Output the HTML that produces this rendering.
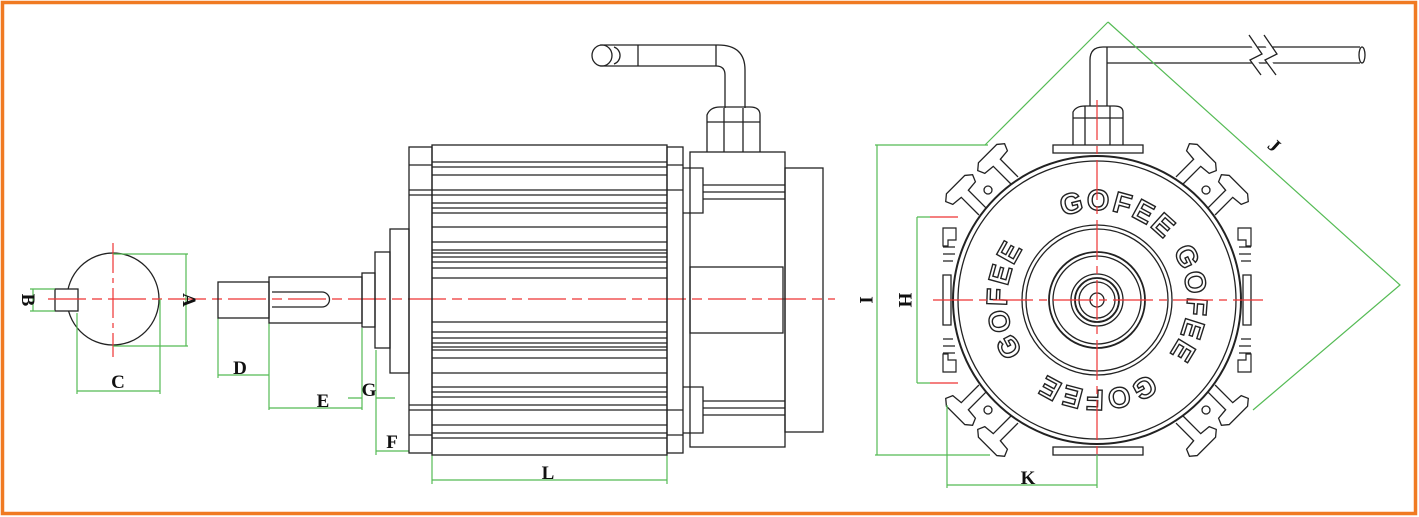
<!DOCTYPE html>
<html><head><meta charset="utf-8"><style>
html,body{margin:0;padding:0;background:#fff;}
svg{display:block;}
.lbl{font-family:"Liberation Serif",serif;font-weight:bold;}
.logo{font-family:"Liberation Sans",sans-serif;font-weight:bold;}
</style></head><body>
<svg width="1419" height="517" viewBox="0 0 1419 517" xmlns="http://www.w3.org/2000/svg">
<defs>
<g id="tee">
<path d="M-5,12 L-5,-13 L-16,-14 L-19,-21 L-13,-26 L13,-26 L19,-21 L16,-14 L5,-13 L5,12" fill="#fff" stroke="#222" stroke-width="1.3"/>
</g>
<g id="corner">
<use href="#tee" transform="translate(1006,172) rotate(-45)"/>
<use href="#tee" transform="translate(974,203) rotate(-45)"/>
<circle cx="988" cy="190" r="4" fill="none" stroke="#222" stroke-width="1.3"/>
<path d="M943,228 h13 v12 h-8 v6 h-5z M943,247 h12 M943,254 h12 M943,261 h10" fill="none" stroke="#222" stroke-width="1.2"/>
</g>
<path id="ring" d="M1007,300 A90,90 0 1 1 1187,300 A90,90 0 1 1 1007,300 A90,90 0 1 1 1187,300 A90,90 0 1 1 1007,300"/>
</defs>
<rect x="2.5" y="2.5" width="1413" height="511" fill="#fff" stroke="#f07a22" stroke-width="3.5"/>

<g fill="none" stroke="#222" stroke-width="1.3">
<circle cx="113" cy="299" r="46"/>
<rect x="55" y="289" width="23" height="22" fill="#fff"/>
</g>
<g stroke="#e33" stroke-width="1.2" fill="none">
<line x1="113" y1="243" x2="113" y2="357" stroke-dasharray="30,5,5,5"/>
<line x1="48" y1="299" x2="835" y2="299" stroke-dasharray="38,6,10,6"/>
</g>
<g stroke="#5b5" stroke-width="1.2" fill="none">
<path d="M113,254 H188 M113,346 H188 M186,254 V346"/>
<path d="M30,289 H55 M30,311 H55 M33,289 V311"/>
<path d="M77,313 V394 M160,299 V394 M77,391 H160"/>
<path d="M218,318 V378 M269,323 V410 M218,375 H269"/>
<path d="M269,408 H362 M362,328 V410 M348,398 H362 M376,398 H395 M376,350 V455 M376,451 H409"/>
<path d="M432,455 V484 M667,455 V484 M432,480 H667"/>
</g>
<g class="lbl" font-size="19" fill="#111" text-anchor="middle">
<text x="183" y="300" transform="rotate(90 183 300)">A</text>
<text x="20" y="300" transform="rotate(90 20 300)" dy="-2">B</text>
<text x="118" y="388">C</text>
<text x="240" y="374">D</text>
<text x="323" y="407">E</text>
<text x="369" y="396">G</text>
<text x="392" y="448">F</text>
<text x="548" y="479">L</text>
</g>

<g fill="none" stroke="#222" stroke-width="1.3">
<rect x="218" y="282" width="51" height="36"/>
<rect x="269" y="277" width="93" height="46"/>
<path d="M272,292 H322 A7.5,7.5 0 0 1 322,307 H272"/>
<rect x="362" y="273" width="13" height="54"/>
<rect x="375" y="252" width="15" height="96"/>
<rect x="390" y="229" width="19" height="144"/>
<rect x="409" y="147" width="23" height="306"/>
<rect x="432" y="145" width="235" height="310"/>
<rect x="667" y="147" width="16" height="306"/>
<path d="M683,168 H703 V213 H683 M683,387 H703 V433 H683"/>
<rect x="690" y="152" width="95" height="295"/>
<rect x="785" y="168" width="38" height="264"/>
<rect x="690" y="267" width="93" height="66"/>
<path d="M703,185 H785 M703,192 H785 M703,199 H785 M703,401 H785 M703,408 H785 M703,415 H785"/>
<path d="M432,162 H667 M432,167 H667 M432,175 H667 M432,190 H667 M432,195 H667 M432,203 H667 M432,208 H667 M432,213 H667 M432,227 H667 M432,242 H667 M432,250 H667 M432,253 H667 M432,257 H667 M432,262 H667 M432,268 H667 M432,278 H667"/>
<path d="M432,322 H667 M432,332 H667 M432,338 H667 M432,343 H667 M432,347 H667 M432,350 H667 M432,358 H667 M432,373 H667 M432,387 H667 M432,392 H667 M432,397 H667 M432,405 H667 M432,410 H667 M432,425 H667 M432,433 H667 M432,438 H667"/>
<path d="M409,165 H432 M409,190 H432 M409,195 H432 M409,405 H432 M409,410 H432 M409,435 H432 M667,165 H683 M667,190 H683 M667,410 H683 M667,435 H683"/>
<path d="M707,152 V115 Q710,107 720,107 H750 Q760,107 760,115 V152"/>
<path d="M724,108 V152 M743,108 V152 M707,122 H760"/>
<path d="M725,108 V75 Q725,66 716,66 H600 M745,108 V70 Q745,45 718,45 H600"/>
<path d="M638,45 V66 M716,45 V66"/>
<ellipse cx="602" cy="55.5" rx="10" ry="10.5"/>
<path d="M614,47 A9,9 0 0 1 614,64"/>
</g>

<g fill="none" stroke="#222" stroke-width="1.3">
<use href="#corner"/>
<use href="#corner" transform="translate(2194,0) scale(-1,1)"/>
<use href="#corner" transform="translate(0,600) scale(1,-1)"/>
<use href="#corner" transform="translate(2194,600) scale(-1,-1)"/>
<path d="M943,275 h8 v50 h-8z M1251,275 h-8 v50 h8z"/>
<circle cx="1097" cy="300" r="144" fill="#fff" stroke-width="2"/>
<circle cx="1097" cy="300" r="139"/>
<circle cx="1097" cy="300" r="75"/>
<circle cx="1097" cy="300" r="71"/>
<circle cx="1097" cy="300" r="48" stroke-width="1.8"/>
<circle cx="1097" cy="300" r="44"/>
<circle cx="1097" cy="300" r="26"/>
<circle cx="1097" cy="300" r="22" stroke-width="1.8"/>
<circle cx="1097" cy="300" r="18"/>
<circle cx="1097" cy="300" r="7"/>
<rect x="1053" y="145" width="90" height="8" fill="#fff"/>
<rect x="1053" y="447" width="90" height="8" fill="#fff"/>
<path d="M1073,145 V112 Q1076,106 1085,106 H1114 Q1123,106 1123,112 V145 M1085,106 V145 M1110,106 V145 M1073,118 H1123"/>
<path d="M1090,106 V60 Q1090,47 1103,47 H1360 M1107,106 V63 H1360 M1107,47 V63"/>
<ellipse cx="1362" cy="55" rx="3" ry="8"/>
<path d="M1248,37 L1262,57 L1252,58 L1264,74 M1262,37 L1276,57 L1266,58 L1278,74" stroke="#fff" stroke-width="5"/>
<path d="M1249,35 L1262,54 L1250,60 L1261,75 M1264,35 L1277,54 L1265,60 L1276,75"/>
</g>
<g class="logo" font-size="29" fill="#fff" stroke="#222" stroke-width="1.4" letter-spacing="2">
<text text-anchor="middle"><textPath href="#ring" startOffset="162">GOFEE</textPath></text>
<text text-anchor="middle"><textPath href="#ring" startOffset="286">GOFEE</textPath></text>
<text text-anchor="middle"><textPath href="#ring" startOffset="423">GOFEE</textPath></text>
<text text-anchor="middle"><textPath href="#ring" startOffset="565">GOFEE</textPath></text>
</g>
<g stroke="#e33" stroke-width="1.2" fill="none" stroke-dasharray="40,6,8,6">
<line x1="1097" y1="100" x2="1097" y2="458"/>
<line x1="933" y1="300" x2="1263" y2="300"/>
</g>
<g stroke="#5b5" stroke-width="1.2" fill="none">
<path d="M1108,22 L985,145 M1108,22 L1400,285 L1253,410"/>
<path d="M875,145 H988 M875,455 H990 M877,145 V455"/>
<path d="M917,217 V383 M917,217 H930 M917,383 H930"/>
<path d="M947,405 V488 M1097,455 V488 M947,485 H1097"/>
</g>
<path d="M930,217 H958 M930,383 H958" stroke="#e33" stroke-width="1.2"/>
<g class="lbl" font-size="19" fill="#111" text-anchor="middle">
<text x="866" y="300" transform="rotate(90 866 300)" dy="6">I</text>
<text x="905" y="300" transform="rotate(90 905 300)" dy="6">H</text>
<text x="1028" y="484">K</text>
<text x="1270" y="150" transform="rotate(42 1270 150)">J</text>
</g>
</svg>
</body></html>
